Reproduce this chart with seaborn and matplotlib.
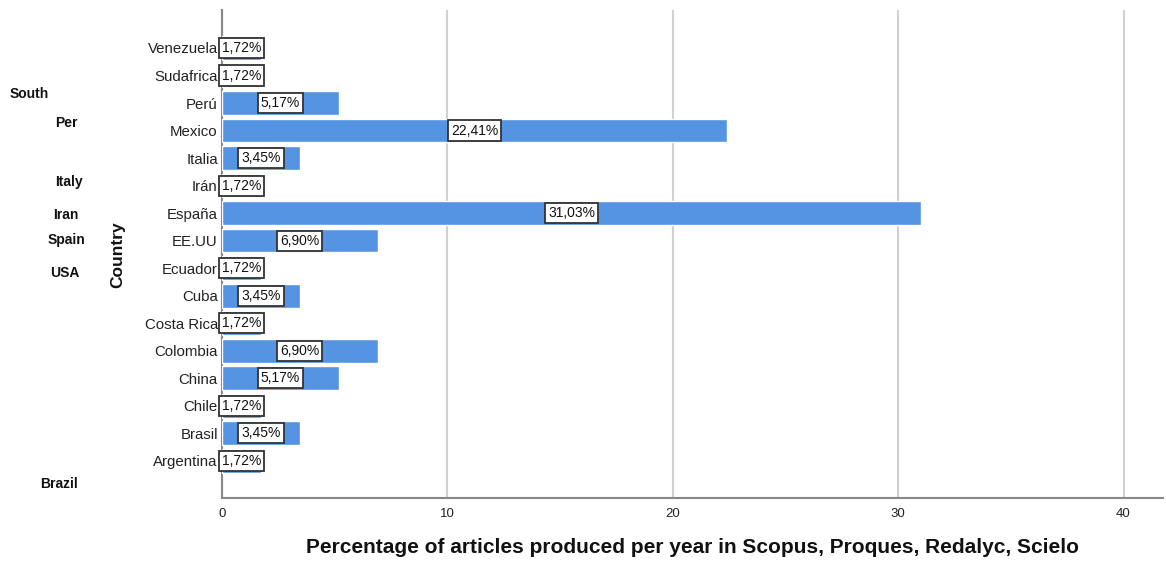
import matplotlib
matplotlib.use("Agg")
import matplotlib.pyplot as plt
import seaborn as sns
import pandas as pd

countries = ["Venezuela", "Sudafrica", "Perú", "Mexico", "Italia", "Irán", "España",
             "EE.UU", "Ecuador", "Cuba", "Costa Rica", "Colombia", "China", "Chile",
             "Brasil", "Argentina"]
percentages = [1.72, 1.72, 5.17, 22.41, 3.45, 1.72, 31.03, 6.90, 1.72, 3.45, 1.72,
               6.90, 5.17, 1.72, 3.45, 1.72]
x_ticks = [0, 10, 20, 30, 40]
side_labels = ["South", "Per", "Italy", "Iran", "Spain", "USA", "Brazil"]
side_label_xy = [(10, 94), (55, 123), (55, 182), (53, 215), (48, 240), (50, 273), (40, 484)]

sns.set_theme(style="white")
plt.rcParams['font.family'] = ['Liberation Sans', 'DejaVu Sans']

df = pd.DataFrame({"Country": countries, "Pct": percentages})

W, H = 1166, 562
fig = plt.figure(figsize=(W / 100, H / 100), dpi=100)
ax = fig.add_axes([222 / W, 1 - 498 / H, (1163 - 222) / W, (498 - 10) / H])

sns.barplot(data=df, x="Pct", y="Country", orient="h", color="#5594E2",
            saturation=1, width=0.86, ax=ax, zorder=3)

labels = [f"{v:.2f}%".replace(".", ",") for v in percentages]
ax.bar_label(ax.containers[0], labels=labels, label_type="center", fontsize=10,
             color="#111111", zorder=5,
             bbox=dict(boxstyle="square,pad=0.22", fc="white", ec="#333333", lw=1.3))

ax.set_xlim(0, 41.75)
ax.set_ylim(16.35, -1.38)
ax.set_xticks(x_ticks)
ax.xaxis.grid(True, color="#d0d0d0", lw=1.5, zorder=0)
ax.yaxis.grid(False)
for s in ["top", "right"]:
    ax.spines[s].set_visible(False)
for s in ["left", "bottom"]:
    ax.spines[s].set_color("#888888")
    ax.spines[s].set_linewidth(1.5)
ax.tick_params(axis="both", length=0)
ax.tick_params(axis="y", pad=3, labelsize=10.8, labelcolor="#222222")
ax.tick_params(axis="x", pad=7, labelsize=9.5, labelcolor="#222222")

ax.set_xlabel("Percentage of articles produced per year in Scopus, Proques, Redalyc, Scielo",
              fontsize=15, fontweight="bold", color="#111111", labelpad=13)
ax.set_ylabel("")
fig.text(118 / W, 1 - 255 / H, "Country", rotation=90, ha="center", va="center",
         fontsize=12.5, fontweight="bold", color="#111111")

for txt, (px, py) in zip(side_labels, side_label_xy):
    fig.text(px / W, 1 - py / H, txt, ha="left", va="center", fontsize=10,
             fontweight="bold", color="#111111")

fig.savefig("out.png", dpi=100)
